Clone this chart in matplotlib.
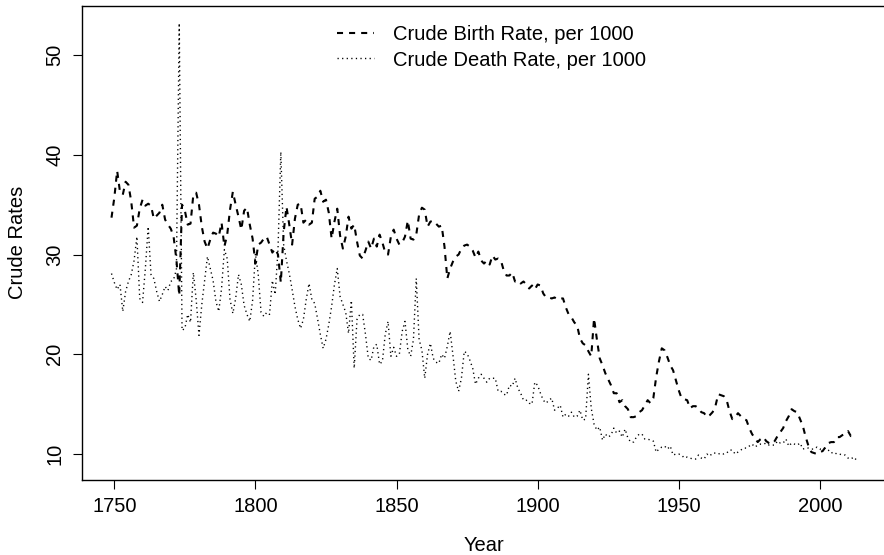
import matplotlib
matplotlib.use("Agg")
import matplotlib.pyplot as plt

plt.rcParams['font.family'] = ['Liberation Sans', 'DejaVu Sans']

# Sweden, crude rates per 1000, 1749-2013
years = list(range(1749, 2014))

birth_rate = [
    33.7,
    35.7, 38.4, 36.3, 36.0, 37.3, 37.0, 35.3, 32.7, 32.9, 34.6,
    35.5, 34.9, 35.1, 34.9, 33.6, 33.9, 34.2, 35.0, 33.5, 33.0,
    32.6, 31.8, 29.5, 25.9, 35.0, 34.4, 33.0, 33.1, 36.0, 36.2,
    35.0, 32.8, 31.3, 30.6, 31.5, 32.2, 32.1, 31.8, 33.2, 30.8,
    32.0, 34.5, 36.3, 35.0, 33.8, 32.5, 34.4, 34.7, 33.0, 31.6,
    29.1, 31.0, 31.2, 31.6, 31.8, 31.0, 30.2, 30.6, 30.0, 27.2,
    32.2, 34.8, 33.0, 31.0, 33.6, 35.0, 35.1, 33.2, 33.5, 33.0,
    33.2, 35.6, 35.8, 36.4, 35.3, 35.5, 34.2, 31.6, 33.3, 34.6,
    31.9, 30.6, 31.8, 33.8, 32.6, 33.0, 31.3, 29.9, 29.6, 30.4,
    31.3, 30.6, 31.6, 30.8, 32.0, 31.2, 30.2, 30.0, 31.8, 32.5,
    31.6, 31.0, 31.2, 31.8, 33.4, 31.6, 31.5, 32.0, 34.0, 34.7,
    34.5, 32.8, 33.3, 33.4, 33.1, 32.8, 32.9, 30.8, 27.6, 28.6,
    29.3, 29.8, 30.0, 30.6, 30.9, 31.0, 30.8, 30.4, 29.7, 30.3,
    29.4, 29.1, 29.4, 29.0, 29.9, 29.5, 29.6, 29.4, 28.4, 27.9,
    27.9, 28.2, 27.3, 27.4, 27.1, 27.3, 27.0, 26.6, 26.9, 26.5,
    27.0, 26.9, 26.1, 25.7, 25.7, 25.6, 25.7, 25.5, 25.6, 25.6,
    24.7, 24.0, 23.7, 23.2, 22.9, 21.6, 21.1, 20.9, 20.3, 19.8,
    23.6, 21.5, 19.6, 18.9, 18.1, 17.5, 16.9, 16.1, 16.1, 15.2,
    15.4, 14.8, 14.5, 13.7, 13.7, 13.8, 14.2, 14.4, 14.9, 15.4,
    15.1, 15.6, 17.7, 19.3, 20.6, 20.4, 19.7, 18.9, 18.4, 17.4,
    16.4, 15.6, 15.5, 15.4, 14.6, 14.8, 14.8, 14.6, 14.2, 14.1,
    13.7, 13.9, 14.2, 14.8, 16.0, 15.9, 15.8, 15.4, 14.3, 13.5,
    13.7, 14.1, 13.8, 13.5, 13.4, 12.6, 12.0, 11.6, 11.2, 11.5,
    11.7, 11.3, 11.1, 11.0, 11.3, 11.8, 12.2, 12.6, 13.3, 13.8,
    14.5, 14.3, 14.2, 13.5, 12.8, 11.7, 10.8, 10.2, 10.1, 10.0,
    10.2, 10.3, 10.7, 11.1, 11.2, 11.2, 11.7, 11.7, 11.9, 12.0,
    12.3, 11.8, 11.9, 11.8,
]

death_rate = [
    28.1,
    27.2, 26.5, 27.0, 24.3, 26.3, 27.3, 28.0, 29.4, 31.8, 25.6,
    25.2, 28.6, 32.8, 28.0, 27.6, 26.3, 25.3, 26.0, 26.8, 26.4,
    27.3, 27.5, 28.5, 53.2, 22.4, 22.6, 24.0, 23.2, 28.2, 25.5,
    21.9, 25.0, 27.4, 29.8, 28.6, 27.4, 25.3, 24.3, 26.6, 30.5,
    29.6, 25.5, 24.1, 25.6, 28.0, 27.0, 24.9, 24.0, 23.3, 25.4,
    30.1, 28.0, 24.2, 23.8, 24.2, 24.0, 27.4, 26.0, 30.5, 40.3,
    31.0, 29.4, 28.1, 26.5, 24.8, 23.5, 22.6, 23.5, 25.5, 27.1,
    25.5, 25.1, 23.6, 22.0, 20.6, 21.5, 23.0, 24.8, 27.0, 28.6,
    25.8, 25.0, 24.2, 22.1, 25.4, 18.6, 23.5, 24.0, 24.0, 22.0,
    19.6, 19.4, 20.8, 21.0, 19.0, 19.3, 22.0, 23.3, 19.8, 20.7,
    19.8, 20.0, 22.3, 23.3, 20.5, 19.8, 21.5, 27.6, 21.5, 20.4,
    17.6, 20.0, 21.1, 19.6, 19.2, 19.1, 20.0, 19.6, 20.8, 22.3,
    19.9, 17.3, 16.3, 17.6, 20.3, 20.1, 19.4, 18.6, 17.0, 17.6,
    18.0, 17.6, 17.2, 17.6, 17.6, 17.6, 16.3, 16.3, 16.0, 15.9,
    16.9, 16.8, 17.6, 16.6, 16.1, 15.4, 15.4, 15.1, 15.0, 17.2,
    16.9, 16.1, 15.4, 15.1, 15.4, 15.6, 14.4, 14.6, 14.9, 13.7,
    14.0, 13.8, 14.2, 13.7, 13.8, 14.4, 13.4, 13.5, 18.0, 14.6,
    13.0, 12.4, 12.7, 11.4, 12.0, 11.7, 11.9, 12.6, 12.1, 12.3,
    11.7, 12.5, 11.6, 11.2, 11.2, 11.7, 12.0, 12.0, 11.5, 11.5,
    11.4, 11.3, 10.2, 10.5, 10.7, 10.8, 10.5, 10.8, 9.9, 10.0,
    10.0, 9.9, 9.6, 9.7, 9.6, 9.5, 9.5, 9.9, 9.6, 9.5,
    10.0, 9.8, 10.1, 10.1, 10.0, 10.1, 10.0, 10.1, 10.4, 10.4,
    10.0, 10.2, 10.4, 10.6, 10.6, 10.8, 11.0, 10.7, 10.9, 11.0,
    11.0, 11.1, 10.9, 10.9, 10.9, 11.3, 11.1, 11.1, 11.5, 10.8,
    11.1, 11.0, 10.9, 11.1, 10.5, 10.6, 10.6, 10.5, 10.5, 10.7,
    10.5, 10.5, 10.6, 10.4, 10.1, 10.2, 10.0, 10.0, 9.9, 9.9,
    9.6, 9.5, 9.7, 9.4,
]

x_ticks = [1750, 1800, 1850, 1900, 1950, 2000]
y_ticks = [10, 20, 30, 40, 50]

W, H = 884, 555
fig = plt.figure(figsize=(W / 100, H / 100), dpi=100)
ax = fig.add_axes([81.7 / W, 75 / H, 804.6 / W, 474.3 / H])

ax.plot(years, birth_rate, color="black", lw=1.5, linestyle=(0, (2.9, 2.9)),
        label="Crude Birth Rate, per 1000")
ax.plot(years, death_rate, color="black", lw=1.0, linestyle=(0, (0.9, 2.4)),
        label="Crude Death Rate, per 1000")

ax.margins(x=0.04)
ax.set_ylim(7.4, 54.95)
ax.set_xticks(x_ticks)
ax.set_yticks(y_ticks)
ax.set_yticklabels([str(v) for v in y_ticks], rotation=90, va="center")

ax.tick_params(direction="out", length=6.5, width=0.8, labelsize=14.5, pad=6)
for s in ax.spines.values():
    s.set_linewidth(1.0)
ax.spines["right"].set_visible(False)

ax.set_xlabel("Year", fontsize=14.5, labelpad=14)
ax.set_ylabel("Crude Rates", fontsize=14.5, labelpad=13)

ax.legend(loc="upper left", bbox_to_anchor=(336.7 / W, 1 - 25.5 / H),
          bbox_transform=fig.transFigure, frameon=False, fontsize=14.5,
          borderpad=0, borderaxespad=0, handlelength=1.85,
          handletextpad=0.95, labelspacing=0.3)

fig.savefig("out.png", dpi=100)
